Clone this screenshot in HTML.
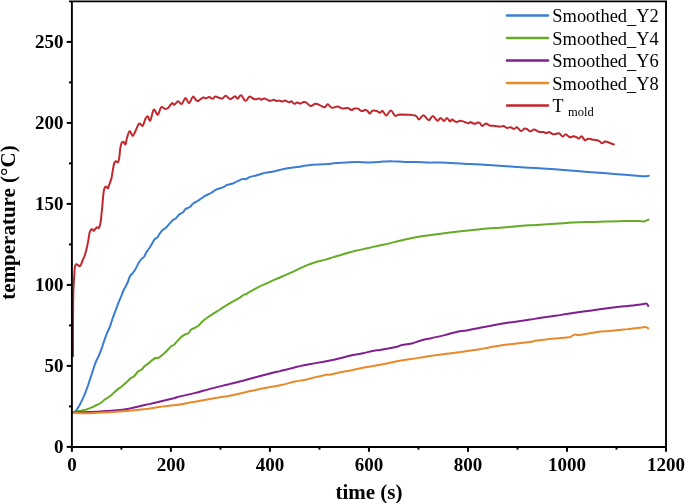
<!DOCTYPE html>
<html><head><meta charset="utf-8"><style>
html,body{margin:0;padding:0;background:#fff;}
body{width:685px;height:503px;overflow:hidden;font-family:"Liberation Serif",serif;}
svg{display:block;will-change:transform;filter:blur(0.3px);}
</style></head><body>
<svg width="685" height="503" viewBox="0 0 685 503"><path d="M74.0,412.2 C74.3,412.0 75.0,411.8 75.6,411.2 C76.2,410.6 76.8,409.7 77.4,408.8 C78.0,407.9 78.5,406.9 79.1,405.9 C79.6,404.9 80.2,403.9 80.7,402.9 C81.2,401.9 81.7,400.9 82.2,399.8 C82.7,398.7 83.3,397.5 83.8,396.3 C84.3,395.1 84.8,394.0 85.3,392.8 C85.8,391.6 86.2,390.5 86.6,389.3 C87.0,388.1 87.5,387.1 87.9,385.8 C88.3,384.6 88.8,383.1 89.2,381.8 C89.6,380.5 90.0,379.3 90.5,377.9 C91.0,376.5 91.5,374.9 91.9,373.5 C92.4,372.1 92.8,370.8 93.2,369.5 C93.6,368.2 94.0,367.0 94.5,365.5 C95.0,364.0 95.7,362.1 96.4,360.5 C97.1,358.9 98.0,357.7 98.9,355.6 C99.8,353.5 101.1,350.0 101.9,347.7 C102.7,345.4 103.1,344.0 103.9,341.7 C104.7,339.4 105.8,336.2 106.8,333.7 C107.8,331.2 108.8,329.4 109.8,326.8 C110.8,324.2 111.8,320.6 112.8,317.8 C113.8,315.0 114.8,312.5 115.8,309.9 C116.8,307.2 117.8,304.4 118.8,301.9 C119.8,299.4 120.9,297.0 121.7,295.0 C122.5,293.0 123.1,291.2 123.8,289.8 C124.5,288.4 125.1,287.7 125.8,286.3 C126.5,284.9 127.3,283.2 128.0,281.5 C128.7,279.8 129.5,277.1 130.2,275.8 C130.9,274.5 131.7,274.5 132.4,273.6 C133.1,272.7 133.9,271.8 134.6,270.6 C135.3,269.4 136.1,268.0 136.8,266.6 C137.5,265.2 138.2,263.6 139.0,262.3 C139.8,261.0 140.7,259.8 141.6,258.8 C142.5,257.9 143.5,257.4 144.2,256.6 C144.8,255.8 144.9,255.0 145.5,253.9 C146.1,252.8 146.9,251.4 147.7,250.3 C148.4,249.2 149.3,248.3 150.0,247.2 C150.7,246.1 151.2,245.0 152.0,243.7 C152.8,242.4 153.6,240.4 154.5,239.3 C155.4,238.2 156.6,238.3 157.5,237.3 C158.4,236.3 159.0,234.6 159.9,233.3 C160.8,232.1 161.9,230.7 162.9,229.8 C163.9,228.9 164.9,228.7 165.9,227.8 C166.9,226.9 167.7,225.7 168.9,224.4 C170.1,223.1 171.8,220.9 172.9,219.9 C174.1,218.9 174.7,219.3 175.8,218.4 C176.9,217.5 178.1,215.4 179.3,214.4 C180.5,213.4 181.7,213.3 182.8,212.4 C183.9,211.5 184.6,209.8 185.8,208.9 C187.0,208.0 188.6,207.9 189.8,207.0 C191.0,206.1 192.0,204.4 193.2,203.5 C194.3,202.6 195.6,202.2 196.7,201.5 C197.8,200.8 198.6,200.3 200.0,199.4 C201.4,198.5 203.3,197.0 205.1,195.9 C206.9,194.8 209.2,194.0 211.0,193.0 C212.8,192.0 214.0,190.7 216.1,189.7 C218.2,188.7 221.6,188.0 223.4,187.2 C225.2,186.4 225.4,185.6 227.0,185.0 C228.6,184.4 231.2,184.1 232.8,183.5 C234.4,182.9 234.9,182.4 236.5,181.7 C238.1,181.0 240.7,179.5 242.3,179.1 C243.9,178.7 244.7,179.5 246.0,179.1 C247.3,178.7 248.3,177.5 250.0,176.9 C251.7,176.3 253.9,176.1 256.1,175.5 C258.3,174.9 261.1,173.9 263.4,173.3 C265.7,172.7 267.4,172.6 270.0,172.1 C272.6,171.6 275.9,170.8 278.8,170.1 C281.7,169.4 284.6,168.7 287.5,168.2 C290.4,167.7 293.1,167.5 296.3,167.1 C299.5,166.7 303.1,166.0 306.5,165.6 C309.9,165.2 313.3,164.8 316.7,164.6 C320.1,164.3 323.7,164.3 326.9,164.1 C330.1,163.8 332.5,163.3 335.7,163.1 C338.9,162.8 342.2,162.8 345.9,162.6 C349.5,162.4 353.6,161.9 357.6,161.9 C361.6,161.9 365.8,162.5 370.0,162.4 C374.2,162.3 379.5,161.8 383.1,161.6 C386.8,161.4 388.2,161.1 391.9,161.2 C395.5,161.2 400.9,161.8 405.0,161.9 C409.1,162.0 412.8,161.8 416.7,161.9 C420.6,162.0 424.5,162.5 428.4,162.6 C432.3,162.7 436.1,162.5 440.0,162.6 C443.9,162.7 448.4,163.0 451.8,163.1 C455.2,163.2 457.5,163.2 460.5,163.4 C463.5,163.6 466.0,163.9 470.0,164.1 C474.0,164.3 479.7,164.5 484.6,164.8 C489.5,165.1 494.3,165.4 499.2,165.7 C504.1,166.0 508.9,166.4 513.8,166.7 C518.7,167.0 523.5,167.4 528.4,167.7 C533.3,168.0 538.1,168.2 543.0,168.5 C547.9,168.8 553.1,169.3 557.6,169.6 C562.1,169.9 565.5,170.2 570.0,170.5 C574.5,170.8 579.7,171.3 584.6,171.7 C589.5,172.1 594.3,172.4 599.2,172.8 C604.1,173.2 608.9,173.5 613.8,173.9 C618.7,174.3 623.5,174.6 628.4,175.0 C633.3,175.4 639.6,176.1 643.0,176.2 C646.4,176.3 647.8,175.9 648.8,175.8" fill="none" stroke="#3a7dd6" stroke-width="2.0" stroke-linejoin="round" stroke-linecap="round"/><path d="M73.5,412.2 C74.0,412.1 75.3,411.6 76.5,411.4 C77.7,411.1 79.6,410.9 80.9,410.7 C82.2,410.5 83.3,410.3 84.5,410.0 C85.7,409.7 86.6,409.5 87.9,409.0 C89.2,408.5 90.8,407.9 92.3,407.2 C93.8,406.5 95.1,405.7 96.6,405.0 C98.0,404.3 99.7,403.7 101.0,402.8 C102.3,401.9 103.0,400.9 104.5,399.8 C106.0,398.7 108.3,397.4 109.8,396.3 C111.3,395.2 112.1,394.3 113.3,393.3 C114.5,392.3 115.3,391.3 116.8,390.1 C118.2,388.9 120.5,387.4 122.0,386.2 C123.5,385.0 124.4,384.1 126.0,382.7 C127.6,381.3 130.1,378.6 131.4,377.6 C132.7,376.6 132.5,377.8 133.6,376.8 C134.7,375.8 136.7,372.6 138.0,371.4 C139.3,370.2 140.5,370.5 141.6,369.6 C142.7,368.8 143.1,367.6 144.5,366.3 C145.9,365.1 148.8,363.1 150.0,362.1 C151.2,361.2 150.5,361.3 151.5,360.6 C152.5,359.9 154.7,358.2 155.8,357.8 C156.9,357.4 156.5,358.9 158.0,358.1 C159.5,357.3 162.4,355.1 164.6,353.1 C166.8,351.1 169.6,347.6 171.2,346.2 C172.8,344.8 172.5,346.2 174.1,344.7 C175.7,343.2 178.9,339.1 180.7,337.4 C182.5,335.7 183.7,335.2 185.0,334.5 C186.3,333.8 187.7,333.8 188.7,333.0 C189.7,332.2 189.8,330.6 190.9,329.7 C192.0,328.8 194.0,328.4 195.3,327.6 C196.6,326.9 197.7,326.2 198.9,325.2 C200.1,324.2 200.9,322.8 202.4,321.4 C203.9,320.0 205.9,318.6 208.2,317.0 C210.5,315.4 213.6,313.5 216.2,311.9 C218.8,310.3 221.4,308.5 223.5,307.2 C225.6,305.9 226.9,305.0 228.7,303.9 C230.5,302.8 232.6,301.7 234.5,300.6 C236.4,299.5 238.7,298.3 240.3,297.3 C241.9,296.3 243.0,295.1 244.0,294.6 C245.0,294.1 245.5,294.6 246.2,294.3 C246.9,294.0 246.0,294.1 248.0,292.9 C250.0,291.7 255.2,288.7 258.4,287.1 C261.6,285.5 264.3,284.4 267.2,283.1 C270.1,281.8 273.0,280.4 275.9,279.1 C278.8,277.8 281.8,276.6 284.7,275.4 C287.6,274.1 290.8,272.8 293.4,271.6 C295.9,270.4 297.7,269.5 300.0,268.4 C302.3,267.3 304.9,266.1 307.3,265.1 C309.7,264.1 311.6,263.4 314.6,262.5 C317.6,261.6 322.5,260.5 325.5,259.6 C328.5,258.8 330.4,258.1 332.8,257.4 C335.2,256.7 337.2,256.0 340.1,255.2 C343.0,254.3 347.4,253.0 350.0,252.3 C352.6,251.6 353.1,251.4 355.5,250.8 C357.9,250.2 361.3,249.6 364.2,248.9 C367.1,248.2 370.1,247.6 373.0,246.9 C375.9,246.2 378.9,245.6 381.8,245.0 C384.7,244.4 387.5,243.8 390.5,243.1 C393.5,242.4 396.0,241.6 400.0,240.7 C404.0,239.8 409.7,238.5 414.6,237.6 C419.5,236.7 423.3,236.1 429.2,235.3 C435.1,234.5 445.1,233.2 450.0,232.6 C454.9,232.0 454.6,231.9 458.4,231.5 C462.2,231.1 468.1,230.5 473.0,230.0 C477.9,229.5 483.1,228.9 487.6,228.5 C492.1,228.1 495.5,228.1 500.0,227.8 C504.5,227.5 509.7,226.9 514.6,226.5 C519.5,226.1 524.3,225.6 529.2,225.3 C534.1,225.0 538.9,224.9 543.8,224.6 C548.7,224.3 553.5,223.8 558.4,223.5 C563.3,223.2 568.1,222.8 573.0,222.6 C577.9,222.3 583.1,222.1 587.6,222.0 C592.1,221.9 596.4,221.9 600.0,221.8 C603.6,221.7 605.2,221.5 609.2,221.4 C613.2,221.3 618.9,221.2 623.8,221.1 C628.7,221.0 635.0,221.0 638.4,221.1 C641.8,221.2 642.5,221.7 644.2,221.4 C645.9,221.2 647.9,219.9 648.6,219.6" fill="none" stroke="#65ab25" stroke-width="2.0" stroke-linejoin="round" stroke-linecap="round"/><path d="M73.3,412.6 C74.2,412.6 75.0,412.4 78.8,412.3 C82.6,412.2 90.5,412.1 96.3,411.8 C102.1,411.5 108.2,411.2 113.8,410.6 C119.4,410.0 124.9,409.3 130.0,408.4 C135.1,407.5 139.7,406.2 144.6,405.1 C149.5,404.0 154.3,403.0 159.2,401.8 C164.1,400.6 170.3,399.1 173.8,398.2 C177.3,397.3 176.5,397.2 180.0,396.4 C183.5,395.5 189.7,394.3 194.6,393.1 C199.5,391.9 204.3,390.4 209.2,389.1 C214.1,387.8 220.3,386.3 223.8,385.4 C227.3,384.5 226.5,384.8 230.0,383.9 C233.5,383.0 239.7,381.5 244.6,380.2 C249.5,378.9 254.3,377.6 259.2,376.3 C264.1,375.0 270.3,373.4 273.8,372.5 C277.3,371.6 276.5,372.0 280.0,371.1 C283.5,370.2 289.7,368.5 294.6,367.4 C299.5,366.3 304.3,365.2 309.2,364.3 C314.1,363.4 320.3,362.3 323.8,361.7 C327.3,361.1 327.1,361.1 330.0,360.5 C332.9,359.9 337.2,358.9 340.9,358.0 C344.5,357.1 348.2,356.1 351.9,355.3 C355.5,354.5 359.1,354.0 362.8,353.2 C366.5,352.4 370.9,351.2 373.8,350.7 C376.7,350.1 376.3,350.5 380.0,349.9 C383.7,349.3 392.5,347.8 396.1,347.0 C399.8,346.2 399.1,345.6 401.9,345.0 C404.7,344.4 409.8,343.9 412.8,343.2 C415.8,342.5 417.2,341.5 420.1,340.7 C423.0,339.9 425.9,339.3 430.0,338.4 C434.1,337.5 440.4,336.1 444.6,335.1 C448.9,334.1 451.9,333.0 455.5,332.2 C459.1,331.4 462.4,331.1 466.5,330.4 C470.6,329.7 475.3,328.7 480.0,327.8 C484.7,326.9 489.7,326.0 494.6,325.1 C499.5,324.2 504.3,323.4 509.2,322.6 C514.1,321.8 520.3,320.9 523.8,320.4 C527.3,319.9 527.1,320.0 530.0,319.6 C532.9,319.2 536.6,318.4 540.9,317.8 C545.1,317.2 551.2,316.4 555.5,315.8 C559.8,315.2 562.4,314.7 566.5,314.1 C570.6,313.5 575.3,312.7 580.0,312.0 C584.7,311.3 589.7,310.8 594.6,310.1 C599.5,309.4 605.8,308.4 609.2,307.9 C612.6,307.4 612.6,307.6 615.0,307.3 C617.4,307.0 621.4,306.6 623.8,306.3 C626.2,306.1 626.8,306.1 629.6,305.8 C632.4,305.5 637.8,304.9 640.5,304.5 C643.2,304.1 644.6,303.7 645.7,303.6 C646.8,303.5 646.7,303.7 647.1,304.1 C647.5,304.5 648.0,305.6 648.2,305.9" fill="none" stroke="#801f90" stroke-width="2.0" stroke-linejoin="round" stroke-linecap="round"/><path d="M72.6,412.9 C75.1,412.9 82.1,413.3 87.5,413.2 C92.9,413.1 97.9,412.8 105.0,412.4 C112.1,412.0 123.4,411.2 130.0,410.7 C136.6,410.2 139.7,409.8 144.6,409.2 C149.5,408.6 154.3,407.7 159.2,407.0 C164.1,406.3 170.3,405.6 173.8,405.2 C177.3,404.8 175.3,405.3 180.0,404.5 C184.7,403.7 195.8,401.5 201.9,400.4 C208.0,399.3 211.8,398.6 216.5,397.8 C221.2,397.0 224.1,396.9 230.0,395.7 C235.9,394.5 245.8,392.1 251.9,390.8 C258.0,389.5 261.8,388.7 266.5,387.8 C271.2,386.9 275.3,386.3 280.0,385.3 C284.7,384.3 290.4,382.5 294.6,381.6 C298.9,380.7 301.9,380.5 305.5,379.7 C309.1,378.9 313.0,377.7 316.5,376.9 C320.0,376.1 324.4,375.1 326.7,374.7 C328.9,374.3 328.2,375.0 330.0,374.7 C331.8,374.4 333.7,373.6 337.3,372.9 C340.9,372.1 347.0,371.2 351.9,370.2 C356.8,369.2 361.8,368.0 366.5,367.1 C371.2,366.2 375.3,365.7 380.0,364.8 C384.7,363.9 389.7,362.7 394.6,361.8 C399.5,360.9 404.3,360.1 409.2,359.3 C414.1,358.5 420.3,357.7 423.8,357.1 C427.3,356.6 426.5,356.5 430.0,356.0 C433.5,355.5 439.7,354.7 444.6,354.1 C449.5,353.5 454.3,353.0 459.2,352.3 C464.1,351.6 470.3,350.6 473.8,350.1 C477.3,349.6 477.4,349.6 480.0,349.2 C482.6,348.8 485.6,348.0 489.2,347.4 C492.8,346.8 497.3,346.0 501.9,345.3 C506.4,344.6 511.8,344.0 516.5,343.4 C521.2,342.8 526.5,342.4 530.0,341.9 C533.5,341.4 533.6,340.9 537.3,340.4 C540.9,339.9 547.0,339.2 551.9,338.7 C556.8,338.2 563.5,337.8 566.5,337.5 C569.5,337.2 568.8,337.6 570.1,337.1 C571.4,336.6 572.9,335.0 574.5,334.6 C576.1,334.2 576.6,335.3 580.0,334.9 C583.4,334.5 589.7,333.1 594.6,332.4 C599.5,331.7 604.3,331.4 609.2,330.9 C614.1,330.4 620.4,329.8 623.8,329.5 C627.2,329.2 626.8,329.2 629.6,328.9 C632.4,328.6 637.8,328.0 640.5,327.7 C643.2,327.4 644.4,326.9 645.7,327.0 C647.0,327.1 647.8,328.2 648.2,328.4" fill="none" stroke="#e8892a" stroke-width="2.0" stroke-linejoin="round" stroke-linecap="round"/><path d="M73.0,356.3 C73.0,351.9 73.0,337.7 73.0,330.0 C73.0,322.3 73.0,316.0 73.1,310.0 C73.1,304.0 73.2,298.9 73.3,294.0 C73.4,289.1 73.7,285.0 73.9,280.6 C74.2,276.2 74.5,270.1 74.8,267.5 C75.1,264.9 75.3,265.4 75.6,264.9 C75.9,264.3 76.1,264.2 76.5,264.2 C76.9,264.2 77.3,264.6 77.8,264.9 C78.3,265.2 79.1,266.2 79.6,266.2 C80.1,266.2 80.4,265.8 80.9,264.9 C81.4,263.9 81.9,262.1 82.6,260.5 C83.2,258.9 84.1,257.5 84.8,255.3 C85.5,253.1 86.3,249.9 86.9,247.4 C87.5,244.9 87.8,242.9 88.3,240.4 C88.8,237.9 89.2,234.2 89.6,232.5 C90.0,230.8 90.5,230.5 90.9,229.9 C91.3,229.3 91.7,229.0 92.2,229.2 C92.7,229.3 93.5,230.8 94.0,230.8 C94.5,230.8 94.8,229.6 95.3,229.0 C95.8,228.4 96.4,227.5 97.0,227.3 C97.6,227.2 98.3,228.6 98.8,228.1 C99.3,227.6 99.7,226.0 100.1,224.6 C100.5,223.2 100.8,221.0 101.0,219.4 C101.2,217.8 101.2,217.2 101.4,215.0 C101.6,212.8 102.0,209.5 102.3,206.3 C102.6,203.1 102.9,198.6 103.2,195.8 C103.5,193.0 103.7,191.1 104.1,189.6 C104.5,188.1 105.0,187.0 105.4,186.6 C105.8,186.2 106.3,186.7 106.7,187.0 C107.1,187.3 107.6,188.7 108.0,188.3 C108.4,187.9 108.7,186.1 109.3,184.5 C109.9,182.9 110.8,180.8 111.4,178.5 C112.0,176.2 112.3,173.1 112.8,170.6 C113.2,168.1 113.6,165.1 114.1,163.6 C114.6,162.1 115.1,161.5 115.8,161.3 C116.5,161.1 117.4,162.9 118.0,162.3 C118.6,161.7 118.9,159.8 119.3,157.5 C119.7,155.2 119.8,151.2 120.2,148.8 C120.6,146.4 121.0,144.3 121.5,143.1 C122.0,141.9 122.6,141.6 123.3,141.8 C124.0,142.0 124.9,145.1 125.5,144.4 C126.1,143.7 126.3,139.9 127.0,137.7 C127.7,135.5 128.7,131.4 129.6,131.1 C130.5,130.8 131.8,135.8 132.7,135.9 C133.6,136.0 134.4,133.4 135.3,131.5 C136.2,129.6 137.6,125.8 138.4,124.5 C139.2,123.2 139.4,123.6 140.1,123.8 C140.8,124.0 141.9,126.6 142.8,125.8 C143.7,125.0 144.6,120.4 145.4,118.8 C146.2,117.2 146.8,115.9 147.6,116.2 C148.4,116.5 149.3,121.3 150.2,120.6 C151.1,119.9 152.1,113.6 152.8,111.8 C153.5,110.0 153.8,109.3 154.6,109.8 C155.4,110.3 156.7,115.2 157.7,114.9 C158.7,114.6 159.9,109.2 160.7,107.9 C161.5,106.6 161.8,107.1 162.5,107.2 C163.2,107.3 163.8,108.6 164.7,108.8 C165.6,109.0 166.5,109.2 167.7,108.3 C168.9,107.3 171.0,103.7 172.1,103.1 C173.2,102.5 173.3,105.1 174.3,104.8 C175.3,104.5 177.0,101.4 178.2,101.3 C179.4,101.2 180.4,104.6 181.6,104.1 C182.8,103.5 184.3,98.2 185.5,98.0 C186.7,97.8 187.8,103.4 189.0,103.2 C190.2,103.0 191.8,97.1 193.0,96.6 C194.2,96.1 195.1,99.4 196.0,100.1 C196.9,100.8 197.0,101.4 198.2,101.0 C199.4,100.6 201.7,97.9 203.0,97.5 C204.3,97.1 205.1,98.5 206.1,98.4 C207.1,98.3 208.1,97.0 209.2,97.1 C210.3,97.2 211.7,98.9 212.7,98.8 C213.7,98.7 214.1,96.5 215.3,96.4 C216.5,96.3 218.5,97.7 219.7,98.0 C220.9,98.3 221.7,98.8 222.7,98.4 C223.7,98.0 224.6,95.7 225.8,95.8 C227.1,95.9 228.7,99.2 230.2,99.3 C231.7,99.4 233.8,96.3 235.0,96.2 C236.2,96.1 236.6,99.0 237.6,98.8 C238.6,98.6 239.8,94.9 241.1,95.3 C242.4,95.7 244.1,100.8 245.5,101.0 C246.9,101.2 248.1,97.0 249.4,96.6 C250.7,96.2 252.3,98.3 253.4,98.8 C254.5,99.2 255.1,99.4 256.0,99.3 C256.9,99.2 258.2,98.3 259.1,98.4 C260.0,98.5 260.4,99.7 261.3,99.7 C262.2,99.7 263.1,98.3 264.3,98.4 C265.5,98.5 267.2,99.9 268.3,100.3 C269.4,100.7 270.0,100.9 270.9,100.8 C271.8,100.7 272.6,99.7 273.5,99.7 C274.4,99.7 275.7,100.8 276.6,101.0 C277.5,101.2 277.9,100.5 278.8,100.6 C279.8,100.7 281.3,101.5 282.3,101.5 C283.3,101.5 283.8,100.5 284.9,100.6 C286.0,100.7 287.8,102.2 288.9,102.3 C290.0,102.4 290.4,101.0 291.3,101.2 C292.2,101.5 293.4,103.6 294.4,103.8 C295.3,104.0 296.0,102.5 297.0,102.5 C298.0,102.5 299.4,103.7 300.5,103.6 C301.6,103.5 302.7,102.3 303.6,102.1 C304.6,101.9 305.0,101.8 306.2,102.5 C307.4,103.2 309.1,105.8 310.6,106.0 C312.1,106.2 313.9,104.0 315.4,103.8 C316.9,103.6 318.3,104.5 319.8,105.1 C321.3,105.7 323.3,107.4 324.6,107.3 C325.9,107.2 326.5,104.2 327.7,104.3 C328.9,104.4 330.3,107.4 332.0,107.8 C333.7,108.2 335.9,106.4 337.7,106.5 C339.4,106.6 340.8,108.3 342.5,108.6 C344.2,108.8 346.4,107.8 347.9,108.0 C349.4,108.2 350.3,109.9 351.4,110.0 C352.5,110.1 353.2,108.8 354.4,108.6 C355.6,108.4 357.4,108.3 358.4,108.6 C359.3,108.9 359.4,109.9 360.1,110.3 C360.8,110.7 361.9,111.1 362.8,111.0 C363.7,110.9 364.6,109.7 365.4,109.7 C366.2,109.7 366.9,110.3 367.6,111.0 C368.3,111.7 369.0,113.6 369.8,113.6 C370.6,113.6 371.2,111.2 372.4,110.8 C373.6,110.4 375.6,110.7 376.8,111.0 C378.0,111.3 378.9,112.8 379.8,112.8 C380.8,112.8 381.4,110.6 382.5,111.0 C383.6,111.4 385.0,115.5 386.4,115.4 C387.8,115.3 389.3,110.5 390.8,110.6 C392.3,110.7 393.7,115.2 395.2,115.8 C396.7,116.4 396.7,114.5 400.0,114.4 C403.3,114.4 412.1,114.7 415.2,115.5 C418.3,116.3 417.4,119.5 418.8,119.4 C420.2,119.4 421.9,115.1 423.5,115.2 C425.1,115.3 427.1,120.1 428.7,120.2 C430.2,120.3 431.3,116.0 432.8,116.1 C434.3,116.2 436.2,120.5 437.5,120.8 C438.8,121.1 439.4,117.9 440.5,117.9 C441.6,117.9 442.9,121.0 444.0,121.0 C445.1,121.0 445.9,117.8 446.9,117.9 C447.9,118.0 449.0,121.1 449.9,121.4 C450.8,121.7 451.1,119.5 452.2,119.6 C453.3,119.7 454.8,121.8 456.3,122.0 C457.8,122.2 459.1,120.6 461.0,120.8 C462.9,121.0 466.4,123.0 468.0,123.2 C469.6,123.4 469.6,122.0 470.4,122.0 C471.2,122.0 471.8,122.9 472.7,123.2 C473.6,123.5 474.9,123.8 475.7,123.7 C476.5,123.6 476.7,122.7 477.4,122.6 C478.1,122.5 479.2,122.7 480.0,123.2 C480.8,123.8 481.3,125.9 482.3,125.9 C483.3,126.0 484.7,123.6 485.9,123.5 C487.1,123.4 487.8,125.1 489.4,125.5 C490.9,125.9 493.4,125.7 495.2,125.9 C496.9,126.1 498.5,126.7 499.9,126.7 C501.3,126.7 502.3,125.9 503.5,126.1 C504.7,126.3 505.8,127.7 507.0,127.9 C508.2,128.1 509.3,127.1 510.5,127.3 C511.7,127.5 512.9,129.0 514.0,129.0 C515.1,129.0 515.8,127.0 517.0,127.3 C518.2,127.6 519.8,130.8 521.1,131.0 C522.4,131.2 523.6,128.8 524.6,128.5 C525.6,128.2 525.9,128.5 526.9,129.0 C527.9,129.5 529.2,131.3 530.4,131.4 C531.6,131.5 532.6,129.6 534.0,129.6 C535.4,129.6 537.2,131.3 538.7,131.7 C540.2,132.1 542.0,131.8 543.3,132.0 C544.6,132.2 545.3,133.2 546.3,133.2 C547.3,133.2 548.1,131.8 549.2,132.0 C550.3,132.2 551.7,133.8 552.7,134.1 C553.7,134.4 553.9,134.2 555.0,134.1 C556.1,134.0 557.8,132.9 559.1,133.3 C560.4,133.7 561.6,136.4 562.7,136.6 C563.8,136.8 564.5,134.2 565.7,134.3 C566.9,134.4 568.5,136.9 569.8,137.2 C571.1,137.5 572.3,136.3 573.4,136.3 C574.5,136.3 575.6,136.8 576.5,137.2 C577.4,137.6 578.1,138.8 579.0,138.6 C579.9,138.4 580.6,136.0 581.6,136.3 C582.6,136.6 584.1,140.0 585.1,140.4 C586.1,140.8 586.6,138.9 587.7,138.7 C588.8,138.5 589.9,139.0 591.8,139.4 C593.7,139.8 597.2,140.2 598.9,140.9 C600.6,141.6 601.0,143.2 602.0,143.3 C603.0,143.4 603.9,141.6 605.1,141.5 C606.3,141.4 607.8,142.2 609.2,142.7 C610.7,143.2 613.0,144.2 613.8,144.5" fill="none" stroke="#c1272d" stroke-width="2.0" stroke-linejoin="round" stroke-linecap="round"/><path d="M71.9,1.45 V446.95 H666 V1.45" fill="none" stroke="#000" stroke-width="1.9"/><line x1="69" x2="666.95" y1="1.45" y2="1.45" stroke="#000" stroke-width="1.8"/><line x1="66.7" x2="71.9" y1="446.90" y2="446.90" stroke="#000" stroke-width="2"/><line x1="66.7" x2="71.9" y1="365.90" y2="365.90" stroke="#000" stroke-width="2"/><line x1="66.7" x2="71.9" y1="284.90" y2="284.90" stroke="#000" stroke-width="2"/><line x1="66.7" x2="71.9" y1="203.90" y2="203.90" stroke="#000" stroke-width="2"/><line x1="66.7" x2="71.9" y1="122.90" y2="122.90" stroke="#000" stroke-width="2"/><line x1="66.7" x2="71.9" y1="41.90" y2="41.90" stroke="#000" stroke-width="2"/><line x1="69" x2="71.9" y1="406.40" y2="406.40" stroke="#000" stroke-width="2"/><line x1="69" x2="71.9" y1="325.40" y2="325.40" stroke="#000" stroke-width="2"/><line x1="69" x2="71.9" y1="244.40" y2="244.40" stroke="#000" stroke-width="2"/><line x1="69" x2="71.9" y1="163.40" y2="163.40" stroke="#000" stroke-width="2"/><line x1="69" x2="71.9" y1="82.40" y2="82.40" stroke="#000" stroke-width="2"/><line x1="71.90" x2="71.90" y1="446.9" y2="451.8" stroke="#000" stroke-width="2"/><line x1="170.92" x2="170.92" y1="446.9" y2="451.8" stroke="#000" stroke-width="2"/><line x1="269.93" x2="269.93" y1="446.9" y2="451.8" stroke="#000" stroke-width="2"/><line x1="368.95" x2="368.95" y1="446.9" y2="451.8" stroke="#000" stroke-width="2"/><line x1="467.97" x2="467.97" y1="446.9" y2="451.8" stroke="#000" stroke-width="2"/><line x1="566.98" x2="566.98" y1="446.9" y2="451.8" stroke="#000" stroke-width="2"/><line x1="666.00" x2="666.00" y1="446.9" y2="451.8" stroke="#000" stroke-width="2"/><line x1="121.41" x2="121.41" y1="446.9" y2="449.6" stroke="#000" stroke-width="2"/><line x1="220.43" x2="220.43" y1="446.9" y2="449.6" stroke="#000" stroke-width="2"/><line x1="319.44" x2="319.44" y1="446.9" y2="449.6" stroke="#000" stroke-width="2"/><line x1="418.46" x2="418.46" y1="446.9" y2="449.6" stroke="#000" stroke-width="2"/><line x1="517.48" x2="517.48" y1="446.9" y2="449.6" stroke="#000" stroke-width="2"/><line x1="616.49" x2="616.49" y1="446.9" y2="449.6" stroke="#000" stroke-width="2"/><text x="63.5" y="453.40" font-family="Liberation Serif" font-weight="bold" font-size="19" text-anchor="end">0</text><text x="63.5" y="372.40" font-family="Liberation Serif" font-weight="bold" font-size="19" text-anchor="end">50</text><text x="63.5" y="291.40" font-family="Liberation Serif" font-weight="bold" font-size="19" text-anchor="end">100</text><text x="63.5" y="210.40" font-family="Liberation Serif" font-weight="bold" font-size="19" text-anchor="end">150</text><text x="63.5" y="129.40" font-family="Liberation Serif" font-weight="bold" font-size="19" text-anchor="end">200</text><text x="63.5" y="48.40" font-family="Liberation Serif" font-weight="bold" font-size="19" text-anchor="end">250</text><text x="71.90" y="470.5" font-family="Liberation Serif" font-weight="bold" font-size="19" text-anchor="middle">0</text><text x="170.92" y="470.5" font-family="Liberation Serif" font-weight="bold" font-size="19" text-anchor="middle">200</text><text x="269.93" y="470.5" font-family="Liberation Serif" font-weight="bold" font-size="19" text-anchor="middle">400</text><text x="368.95" y="470.5" font-family="Liberation Serif" font-weight="bold" font-size="19" text-anchor="middle">600</text><text x="467.97" y="470.5" font-family="Liberation Serif" font-weight="bold" font-size="19" text-anchor="middle">800</text><text x="566.98" y="470.5" font-family="Liberation Serif" font-weight="bold" font-size="19" text-anchor="middle">1000</text><text x="666.00" y="470.5" font-family="Liberation Serif" font-weight="bold" font-size="19" text-anchor="middle">1200</text><text x="369" y="498.7" font-family="Liberation Serif" font-weight="bold" font-size="21" text-anchor="middle">time (s)</text><text transform="translate(15.3,222.5) rotate(-90)" x="0" y="0" font-family="Liberation Serif" font-weight="bold" font-size="21" text-anchor="middle">temperature (°C)</text><line x1="507" x2="548" y1="15.5" y2="15.5" stroke="#3a7dd6" stroke-width="2.5" stroke-linecap="round"/><text x="552.3" y="22.00" font-family="Liberation Serif" font-size="18.45">Smoothed<tspan dy="1.6">_</tspan><tspan dy="-1.6">Y2</tspan></text><line x1="507" x2="548" y1="38.0" y2="38.0" stroke="#65ab25" stroke-width="2.5" stroke-linecap="round"/><text x="552.3" y="44.50" font-family="Liberation Serif" font-size="18.45">Smoothed<tspan dy="1.6">_</tspan><tspan dy="-1.6">Y4</tspan></text><line x1="507" x2="548" y1="60.4" y2="60.4" stroke="#801f90" stroke-width="2.5" stroke-linecap="round"/><text x="552.3" y="66.90" font-family="Liberation Serif" font-size="18.45">Smoothed<tspan dy="1.6">_</tspan><tspan dy="-1.6">Y6</tspan></text><line x1="507" x2="548" y1="83.0" y2="83.0" stroke="#e8892a" stroke-width="2.5" stroke-linecap="round"/><text x="552.3" y="89.50" font-family="Liberation Serif" font-size="18.45">Smoothed<tspan dy="1.6">_</tspan><tspan dy="-1.6">Y8</tspan></text><line x1="507" x2="548" y1="105.5" y2="105.5" stroke="#c1272d" stroke-width="2.5" stroke-linecap="round"/><text x="552.5" y="111.5" font-family="Liberation Serif" font-size="18">T</text><text x="568" y="116.1" font-family="Liberation Serif" font-size="12.5">mold</text></svg>
</body></html>
